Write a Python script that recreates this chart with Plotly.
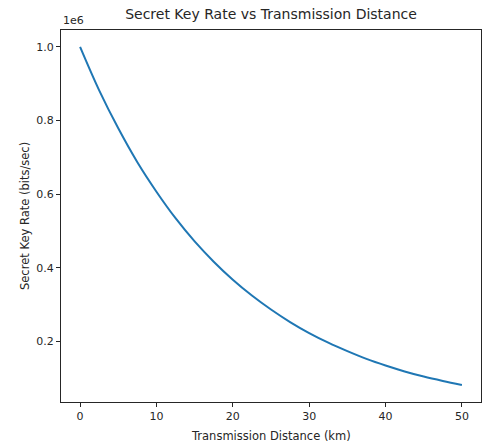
import plotly.graph_objects as go

distance_km = [0, 2.5, 5, 7.5, 10, 12.5, 15, 17.5, 20, 22.5, 25, 27.5, 30,
               32.5, 35, 37.5, 40, 42.5, 45, 47.5, 50]
key_rate = [1000000, 882000, 779000, 687000, 607000, 535000, 472000, 417000,
            368000, 325000, 287000, 253000, 223000, 197000, 174000, 153000,
            135000, 119000, 105000, 93000, 82000]

x_ticks = [0, 10, 20, 30, 40, 50]
y_ticks = [200000, 400000, 600000, 800000, 1000000]
y_tick_labels = ["0.2", "0.4", "0.6", "0.8", "1.0"]

FONT = "DejaVu Sans"
INK = "#262626"

fig = go.Figure()
fig.add_trace(go.Scatter(
    x=distance_km, y=key_rate, mode="lines",
    line=dict(color="#1f77b4", width=2, shape="spline"),
    showlegend=False, hoverinfo="skip",
))

fig.update_layout(
    width=483, height=445,
    margin=dict(l=61, r=2, t=30, b=43, autoexpand=False),
    paper_bgcolor="white", plot_bgcolor="white",
    font=dict(family=FONT, size=11, color=INK),
    title=dict(text="Secret Key Rate vs Transmission Distance",
               x=0.5, xref="paper", y=1, yref="container", yanchor="top",
               pad=dict(t=9),
               font=dict(family=FONT, size=14, color=INK)),
)
fig.update_xaxes(
    range=[-2.5, 52.5], tickvals=x_ticks, ticks="outside", ticklen=4,
    tickcolor=INK, showline=True, linecolor=INK, linewidth=1, mirror=True,
    showgrid=False, zeroline=False, automargin=False,
)
fig.update_yaxes(
    range=[36000, 1046000], tickvals=y_ticks, ticktext=y_tick_labels,
    ticks="outside", ticklen=4, tickcolor=INK, showline=True, linecolor=INK,
    linewidth=1, mirror=True, showgrid=False, zeroline=False, automargin=False,
)
fig.add_annotation(text="Transmission Distance (km)", xref="paper",
                   yref="paper", x=0.5, y=0, yanchor="middle",
                   showarrow=False, yshift=-34,
                   font=dict(family=FONT, size=11.5, color=INK))
fig.add_annotation(text="Secret Key Rate (bits/sec)", xref="paper",
                   yref="paper", x=0, y=0.5, xanchor="center",
                   textangle=-90, showarrow=False, xshift=-36,
                   font=dict(family=FONT, size=11.5, color=INK))
fig.add_annotation(text="1e6", xref="paper", yref="paper", x=0, y=1,
                   xanchor="left", yanchor="bottom", showarrow=False,
                   font=dict(family=FONT, size=11, color=INK), yshift=1)

fig.write_html("out.html", config={"displayModeBar": False})

with open("out.html", "r", encoding="utf-8") as f:
    html = f.read()
html = html.replace(
    "<head>",
    "<head><style>html,body{margin:0;padding:0;overflow:hidden;}</style>",
    1,
)
with open("out.html", "w", encoding="utf-8") as f:
    f.write(html)
